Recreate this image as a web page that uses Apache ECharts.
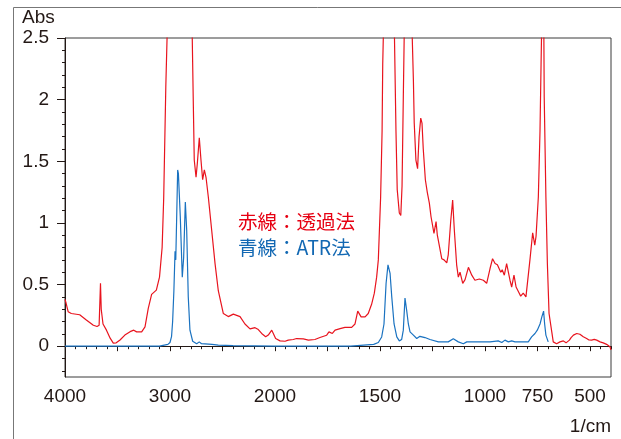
<!DOCTYPE html>
<html>
<head>
<meta charset="utf-8">
<script src="https://cdn.jsdelivr.net/npm/echarts@6/dist/echarts.min.js"></script>
<style>
  html, body { margin: 0; padding: 0; background: #fff; }
  #chart { width: 621px; height: 439px; }
</style>
</head>
<body>
<div id="chart"></div>
<script>
// transmission spectrum (red), wavenumber in 1/cm
var redWn = [4000, 3990, 3970, 3940, 3860, 3800, 3730, 3695, 3675, 3662, 3655, 3638, 3605, 3570, 3540, 3512, 3476, 3430, 3380, 3345, 3318, 3270, 3238, 3207, 3175, 3130, 3100, 3075, 3060, 3040, 3025, 3000, 2900, 2800, 2790, 2779, 2769, 2752, 2740, 2721, 2705, 2689, 2673, 2657, 2635, 2603, 2571, 2540, 2492, 2445, 2397, 2333, 2286, 2238, 2190, 2159, 2127, 2089, 2064, 2031, 2016, 1997, 1976, 1952, 1937, 1913, 1897, 1865, 1841, 1810, 1786, 1754, 1743, 1727, 1714, 1690, 1667, 1635, 1619, 1606, 1590, 1571, 1556, 1540, 1527, 1516, 1508, 1497, 1490, 1487, 1483, 1470, 1440, 1432, 1424, 1418, 1408, 1401, 1395, 1389, 1384, 1360, 1348, 1341, 1337, 1329, 1321, 1314, 1306, 1300, 1294, 1284, 1275, 1265, 1257, 1249, 1243, 1233, 1227, 1218, 1206, 1195, 1182, 1175, 1163, 1154, 1146, 1135, 1127, 1119, 1106, 1095, 1079, 1063, 1048, 1027, 1008, 992, 976, 964, 952, 941, 933, 925, 918, 908, 897, 889, 881, 873, 862, 852, 840, 830, 818, 805, 799, 786, 773, 763, 757, 746, 738, 733, 730, 725, 720, 718, 710, 703, 695, 682, 675, 667, 659, 651, 643, 635, 627, 620, 614, 606, 598, 590, 579, 570, 563, 555, 548, 540, 532, 524, 516, 505, 492, 480, 468, 460, 452, 445, 437, 429, 421, 413, 405, 400];
var redAbs = [0.38, 0.35, 0.28, 0.265, 0.255, 0.215, 0.17, 0.16, 0.17, 0.51, 0.3, 0.18, 0.13, 0.065, 0.025, 0.027, 0.05, 0.09, 0.118, 0.13, 0.116, 0.116, 0.157, 0.306, 0.42, 0.455, 0.56, 0.8, 1.2, 2.1, 2.6, 3.0, 3.0, 3.0, 2.6, 2.02, 1.51, 1.37, 1.48, 1.69, 1.51, 1.35, 1.43, 1.37, 1.21, 0.94, 0.67, 0.45, 0.265, 0.24, 0.26, 0.24, 0.18, 0.14, 0.15, 0.135, 0.103, 0.076, 0.09, 0.13, 0.103, 0.062, 0.043, 0.04, 0.049, 0.054, 0.062, 0.059, 0.049, 0.054, 0.07, 0.089, 0.116, 0.103, 0.13, 0.143, 0.152, 0.152, 0.18, 0.284, 0.238, 0.238, 0.265, 0.34, 0.43, 0.56, 0.7, 1.21, 1.75, 2.29, 2.6, 3.0, 3.0, 2.6, 1.75, 1.27, 1.08, 1.06, 1.3, 2.02, 2.6, 3.0, 2.6, 2.16, 1.81, 1.51, 1.44, 1.7, 1.85, 1.81, 1.6, 1.35, 1.25, 1.16, 1.05, 1.04, 0.915, 1.01, 0.9, 0.82, 0.71, 0.7, 0.675, 0.74, 1.02, 1.185, 0.94, 0.66, 0.56, 0.6, 0.51, 0.54, 0.64, 0.576, 0.535, 0.545, 0.535, 0.51, 0.63, 0.71, 0.67, 0.66, 0.66, 0.6, 0.62, 0.576, 0.67, 0.685, 0.535, 0.48, 0.576, 0.48, 0.44, 0.406, 0.43, 0.4, 0.414, 0.7, 0.92, 0.82, 0.89, 1.21, 1.75, 2.29, 2.6, 3.0, 2.6, 2.02, 1.21, 0.67, 0.265, 0.116, 0.035, 0.03, 0.02, 0.015, 0.035, 0.025, 0.043, 0.03, 0.027, 0.04, 0.049, 0.07, 0.09, 0.08, 0.103, 0.09, 0.097, 0.085, 0.076, 0.07, 0.062, 0.05, 0.049, 0.055, 0.049, 0.04, 0.035, 0.03, 0.027, 0.02, 0.015, 0.01, -0.005, -0.03];

// ATR spectrum (blue)
var blueWn = [4000, 3100, 3095, 3020, 3000, 2985, 2975, 2963, 2952, 2945, 2935, 2927, 2920, 2902, 2883, 2870, 2854, 2841, 2826, 2810, 2784, 2746, 2721, 2700, 2600, 2540, 2400, 2000, 1640, 1635, 1530, 1508, 1492, 1481, 1471, 1462, 1452, 1444, 1433, 1420, 1408, 1397, 1389, 1381, 1373, 1365, 1357, 1341, 1325, 1310, 1286, 1262, 1222, 1175, 1151, 1127, 1103, 1087, 976, 968, 937, 920, 905, 889, 873, 857, 794, 778, 762, 751, 738, 729, 721, 716, 710, 699];
var blueAbs = [0, 0, 0.012, 0.015, 0.03, 0.08, 0.2, 0.45, 0.77, 0.7, 1.1, 1.43, 1.4, 1.05, 0.56, 0.72, 1.17, 0.94, 0.4, 0.13, 0.04, 0.02, 0.035, 0.02, 0.015, 0.008, 0.005, 0, 0, 0.01, 0.015, 0.03, 0.075, 0.18, 0.51, 0.66, 0.59, 0.4, 0.18, 0.075, 0.043, 0.054, 0.13, 0.39, 0.29, 0.18, 0.116, 0.09, 0.062, 0.08, 0.07, 0.054, 0.035, 0.035, 0.06, 0.035, 0.02, 0.035, 0.035, 0.043, 0.043, 0.03, 0.049, 0.035, 0.043, 0.035, 0.035, 0.075, 0.103, 0.13, 0.18, 0.24, 0.284, 0.18, 0.09, 0.035];

var xLabelWn = [4000, 3000, 2000, 1500, 1000, 750, 500];
var xMajorWn = [4000, 3500, 3000, 2500, 2000, 1750, 1500, 1250, 1000, 750, 500];
var yLabels = [0, 0.5, 1, 1.5, 2, 2.5];
var yMinor = [-0.2, -0.1, 0.1, 0.2, 0.3, 0.4, 0.6, 0.7, 0.8, 0.9, 1.1, 1.2, 1.3, 1.4, 1.6, 1.7, 1.8, 1.9, 2.1, 2.2, 2.3, 2.4];

// above 2000 1/cm the axis is compressed by half
function toP(w) { return w > 2000 ? 2000 + (w - 2000) / 2 : w; }
function fromP(p) { return p > 2000 ? 2000 + (p - 2000) * 2 : p; }

function pairs(ws, as) {
  return ws.map(function (w, i) { return [toP(w), as[i]]; });
}

var ink = "#231815";
var font = "Liberation Sans";

var chart = echarts.init(document.getElementById("chart"));
var option = {
  animation: false,
  grid: {
    left: 65, right: 10, top: 38, bottom: 62,
    show: true, borderColor: "#3a3a3a", borderWidth: 1
  },
  xAxis: [
    {
      type: "value", inverse: true, min: 400, max: 3000,
      axisLine: { show: true, lineStyle: { color: ink, width: 1 } },
      axisTick: { show: true, length: 5, customValues: xMajorWn.map(toP), lineStyle: { color: ink } },
      axisLabel: {
        show: true, customValues: xLabelWn.map(toP), margin: 10,
        fontSize: 19, fontFamily: font, color: ink,
        formatter: function (v) { return String(Math.round(fromP(v))); }
      },
      splitLine: { show: false }
    },
    {
      type: "value", inverse: true, min: 400, max: 3000, interval: 50, position: "bottom",
      axisLine: { show: false },
      axisTick: { show: true, length: 3, lineStyle: { color: ink } },
      axisLabel: { show: false },
      splitLine: { show: false }
    }
  ],
  yAxis: [
    {
      type: "value", min: -0.25, max: 2.5,
      axisLine: { show: true, lineStyle: { color: ink, width: 1 } },
      axisTick: { show: true, length: 8, customValues: yLabels, lineStyle: { color: ink } },
      axisLabel: {
        show: true, customValues: yLabels, margin: 16,
        fontSize: 19, fontFamily: font, color: ink
      },
      splitLine: { show: false }
    },
    {
      type: "value", min: -0.25, max: 2.5, position: "left",
      axisLine: { show: false },
      axisTick: { show: true, length: 3, customValues: yMinor, lineStyle: { color: ink } },
      axisLabel: { show: false },
      splitLine: { show: false }
    }
  ],
  graphic: [
    { type: "rect", left: 11, top: 5, shape: { width: 640, height: 460 },
      style: { fill: "none", stroke: "#777", lineWidth: 1 }, silent: true },
    { type: "text", left: 22, top: 8,
      style: { text: "Abs", fontSize: 19, fontFamily: font, fill: ink } },
    { type: "text", right: 10, top: 417,
      style: { text: "1/cm", fontSize: 19, fontFamily: font, fill: ink } },
    { type: "text", left: 238, top: 212,
      style: { text: "赤線：透過法", fontSize: 19.5, fontFamily: "Noto Sans CJK JP", fill: "#e60012" } },
    { type: "text", left: 238, top: 238,
      style: { text: "青線：ATR法", fontSize: 19.5, fontFamily: "Noto Sans CJK JP", fill: "#1268b3" } }
  ],
  series: [
    {
      name: "赤線", type: "line", xAxisIndex: 0, yAxisIndex: 0,
      data: pairs(redWn, redAbs), showSymbol: false,
      lineStyle: { color: "#e8141e", width: 1.2 }
    },
    {
      name: "青線", type: "line", xAxisIndex: 0, yAxisIndex: 0,
      data: pairs(blueWn, blueAbs), showSymbol: false,
      lineStyle: { color: "#1a72c0", width: 1.2 }
    }
  ]
};
chart.setOption(option);
</script>
</body>
</html>
